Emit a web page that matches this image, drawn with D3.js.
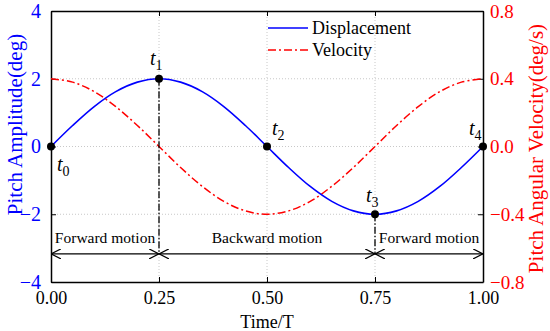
<!DOCTYPE html>
<html>
<head>
<meta charset="utf-8">
<script src="https://cdn.jsdelivr.net/npm/d3@7"></script>
<style>
  body { margin: 0; background: #fff; }
  text { font-family: "Liberation Serif", "Times New Roman", serif; }
</style>
</head>
<body>
<div id="chart"></div>
<script>
// time samples (fraction of period)
const timeSteps = [0, 0.05, 0.1, 0.15, 0.2, 0.25, 0.3, 0.35, 0.4, 0.45, 0.5,
                   0.55, 0.6, 0.65, 0.7, 0.75, 0.8, 0.85, 0.9, 0.95, 1.0];
// pitch amplitude (deg)
const displacement = [0, 0.62, 1.18, 1.62, 1.9, 2.0, 1.9, 1.62, 1.18, 0.62, 0,
                      -0.62, -1.18, -1.62, -1.9, -2.0, -1.9, -1.62, -1.18, -0.62, 0];
// pitch angular velocity (deg/s)
const velocity = [0.4, 0.38, 0.324, 0.235, 0.124, 0, -0.124, -0.235, -0.324, -0.38, -0.4,
                  -0.38, -0.324, -0.235, -0.124, 0, 0.124, 0.235, 0.324, 0.38, 0.4];
const markTimes = [0, 0.25, 0.5, 0.75, 1.0];
const markValues = [0, 2, 0, -2, 0];
const markNames = ["0", "1", "2", "3", "4"];
const xTicks = [0, 0.25, 0.5, 0.75, 1.0];
const leftTicks = [-4, -2, 0, 2, 4];
const rightTicks = [-0.8, -0.4, 0, 0.4, 0.8];
const phases = [
  {from: 0, to: 0.25, label: "Forward motion"},
  {from: 0.25, to: 0.75, label: "Backward motion"},
  {from: 0.75, to: 1.0, label: "Forward motion"}
];
const phaseLevel = -3.17;

var W = 550, H = 331;
var m = {left: 51, right: 67, top: 11, bottom: 49};

var svg = d3.select("#chart").append("svg")
    .attr("width", W)
    .attr("height", H);

var x = d3.scaleLinear().domain([0, 1]).range([m.left, W - m.right]);
var yL = d3.scaleLinear().domain([-4, 4]).range([H - m.bottom, m.top]);
var yR = d3.scaleLinear().domain([-0.8, 0.8]).range([H - m.bottom, m.top]);

// grid
svg.append("g").selectAll("line")
    .data(xTicks.slice(1, -1))
    .enter().append("line")
    .attr("x1", d => x(d)).attr("x2", d => x(d))
    .attr("y1", m.top).attr("y2", H - m.bottom)
    .attr("stroke", "#c8c8c8").attr("stroke-dasharray", "1,2");
svg.append("g").selectAll("line")
    .data(leftTicks.slice(1, -1))
    .enter().append("line")
    .attr("x1", m.left).attr("x2", W - m.right)
    .attr("y1", d => yL(d)).attr("y2", d => yL(d))
    .attr("stroke", "#c8c8c8").attr("stroke-dasharray", "1,2");

// axes
var fmt2 = d3.format(".2f");
svg.append("g")
    .attr("transform", "translate(0," + (H - m.bottom) + ")")
    .call(d3.axisBottom(x).tickValues(xTicks).tickFormat(fmt2).tickSizeInner(-5).tickSizeOuter(0).tickPadding(9))
    .call(g => g.select(".domain").attr("stroke-width", 1.5))
    .call(g => g.selectAll("text").attr("font-size", 18).attr("fill", "#000"));
svg.append("g")
    .attr("transform", "translate(0," + m.top + ")")
    .call(d3.axisTop(x).tickValues(xTicks).tickFormat("").tickSizeInner(-5).tickSizeOuter(0))
    .call(g => g.select(".domain").attr("stroke-width", 1.5));
svg.append("g")
    .attr("transform", "translate(" + m.left + ",0)")
    .call(d3.axisLeft(yL).tickValues(leftTicks).tickSizeInner(-5).tickSizeOuter(0).tickPadding(10))
    .call(g => g.select(".domain").attr("stroke-width", 1.5))
    .call(g => g.selectAll("text").attr("font-size", 20).attr("fill", "#0000ff"));
svg.append("g")
    .attr("transform", "translate(" + (W - m.right) + ",0)")
    .call(d3.axisRight(yR).tickValues(rightTicks).tickFormat(d3.format(".1f")).tickSizeInner(-5).tickSizeOuter(0).tickPadding(7))
    .call(g => g.select(".domain").attr("stroke-width", 1.5))
    .call(g => g.selectAll("text").attr("font-size", 19).attr("fill", "#ff0000"));

// axis titles
svg.append("text")
    .attr("x", (m.left + W - m.right) / 2).attr("y", H - 3)
    .attr("text-anchor", "middle").attr("font-size", 18)
    .text("Time/T");
svg.append("text")
    .attr("transform", "translate(22," + ((m.top + H - m.bottom) / 2 - 22) + ") rotate(-90)")
    .attr("text-anchor", "middle").attr("font-size", 21).attr("fill", "#0000ff")
    .text("Pitch Amplitude(deg)");
svg.append("text")
    .attr("transform", "translate(543," + ((m.top + H - m.bottom) / 2 + 2) + ") rotate(-90)")
    .attr("text-anchor", "middle").attr("font-size", 21).attr("fill", "#ff0000")
    .text("Pitch Angular Velocity(deg/s)");

// curves
var dispLine = d3.line()
    .x((d, i) => x(timeSteps[i]))
    .y(d => yL(d))
    .curve(d3.curveCatmullRom);
var velLine = d3.line()
    .x((d, i) => x(timeSteps[i]))
    .y(d => yR(d))
    .curve(d3.curveCatmullRom);

svg.append("path")
    .datum(velocity)
    .attr("d", velLine)
    .attr("fill", "none")
    .attr("stroke", "#ff0000")
    .attr("stroke-width", 1.5)
    .attr("stroke-dasharray", "8,3,2,3");
svg.append("path")
    .datum(displacement)
    .attr("d", dispLine)
    .attr("fill", "none")
    .attr("stroke", "#0000ff")
    .attr("stroke-width", 1.6);

// vertical markers at t1 and t3
svg.append("g").selectAll("line")
    .data([1, 3])
    .enter().append("line")
    .attr("x1", i => x(markTimes[i])).attr("x2", i => x(markTimes[i]))
    .attr("y1", i => yL(markValues[i])).attr("y2", yL(phaseLevel))
    .attr("stroke", "#000").attr("stroke-width", 1.3)
    .attr("stroke-dasharray", "7,2,1.5,2");

// phase arrows
svg.append("defs").append("marker")
    .attr("id", "arr")
    .attr("viewBox", "0 0 10 10")
    .attr("refX", 10).attr("refY", 5)
    .attr("markerWidth", 10).attr("markerHeight", 10)
    .attr("markerUnits", "userSpaceOnUse")
    .attr("orient", "auto-start-reverse")
    .append("path")
    .attr("d", "M0,0 L10,5 L0,10")
    .attr("fill", "none").attr("stroke", "#000").attr("stroke-width", 1.3);

var ph = svg.append("g");
ph.selectAll("line")
    .data(phases)
    .enter().append("line")
    .attr("x1", d => x(d.from)).attr("x2", d => x(d.to))
    .attr("y1", yL(phaseLevel)).attr("y2", yL(phaseLevel))
    .attr("stroke", "#000").attr("stroke-width", 1.3)
    .attr("marker-start", "url(#arr)")
    .attr("marker-end", "url(#arr)");
ph.selectAll("text")
    .data(phases)
    .enter().append("text")
    .attr("x", d => (x(d.from) + x(d.to)) / 2)
    .attr("y", yL(phaseLevel) - 11)
    .attr("text-anchor", "middle")
    .attr("font-size", 15.5)
    .text(d => d.label);

// key points
svg.append("g").selectAll("circle")
    .data(markTimes)
    .enter().append("circle")
    .attr("cx", d => x(d))
    .attr("cy", (d, i) => yL(markValues[i]))
    .attr("r", 4)
    .attr("fill", "#000");

var labelOff = [[6, 24], [-9, -14], [5, -12], [-9, -12], [-14, -12]];
var lab = svg.append("g").selectAll("text")
    .data(markTimes)
    .enter().append("text")
    .attr("x", (d, i) => x(d) + labelOff[i][0])
    .attr("y", (d, i) => yL(markValues[i]) + labelOff[i][1])
    .attr("font-family", "'DejaVu Serif', serif")
    .attr("font-style", "italic")
    .attr("font-size", 20);
lab.append("tspan").text("t");
lab.append("tspan")
    .attr("dy", 5)
    .attr("font-size", 14)
    .attr("font-style", "normal")
    .text((d, i) => markNames[i]);

// legend
var legend = svg.append("g").attr("transform", "translate(268,28)");
legend.append("line")
    .attr("x1", 0).attr("x2", 40).attr("y1", 0).attr("y2", 0)
    .attr("stroke", "#0000ff").attr("stroke-width", 1.6);
legend.append("text")
    .attr("x", 44).attr("y", 6).attr("font-size", 18)
    .text("Displacement");
legend.append("line")
    .attr("x1", 0).attr("x2", 40).attr("y1", 22).attr("y2", 22)
    .attr("stroke", "#ff0000").attr("stroke-width", 1.5)
    .attr("stroke-dasharray", "8,3,2,3");
legend.append("text")
    .attr("x", 44).attr("y", 28).attr("font-size", 18)
    .text("Velocity");
</script>
</body>
</html>
